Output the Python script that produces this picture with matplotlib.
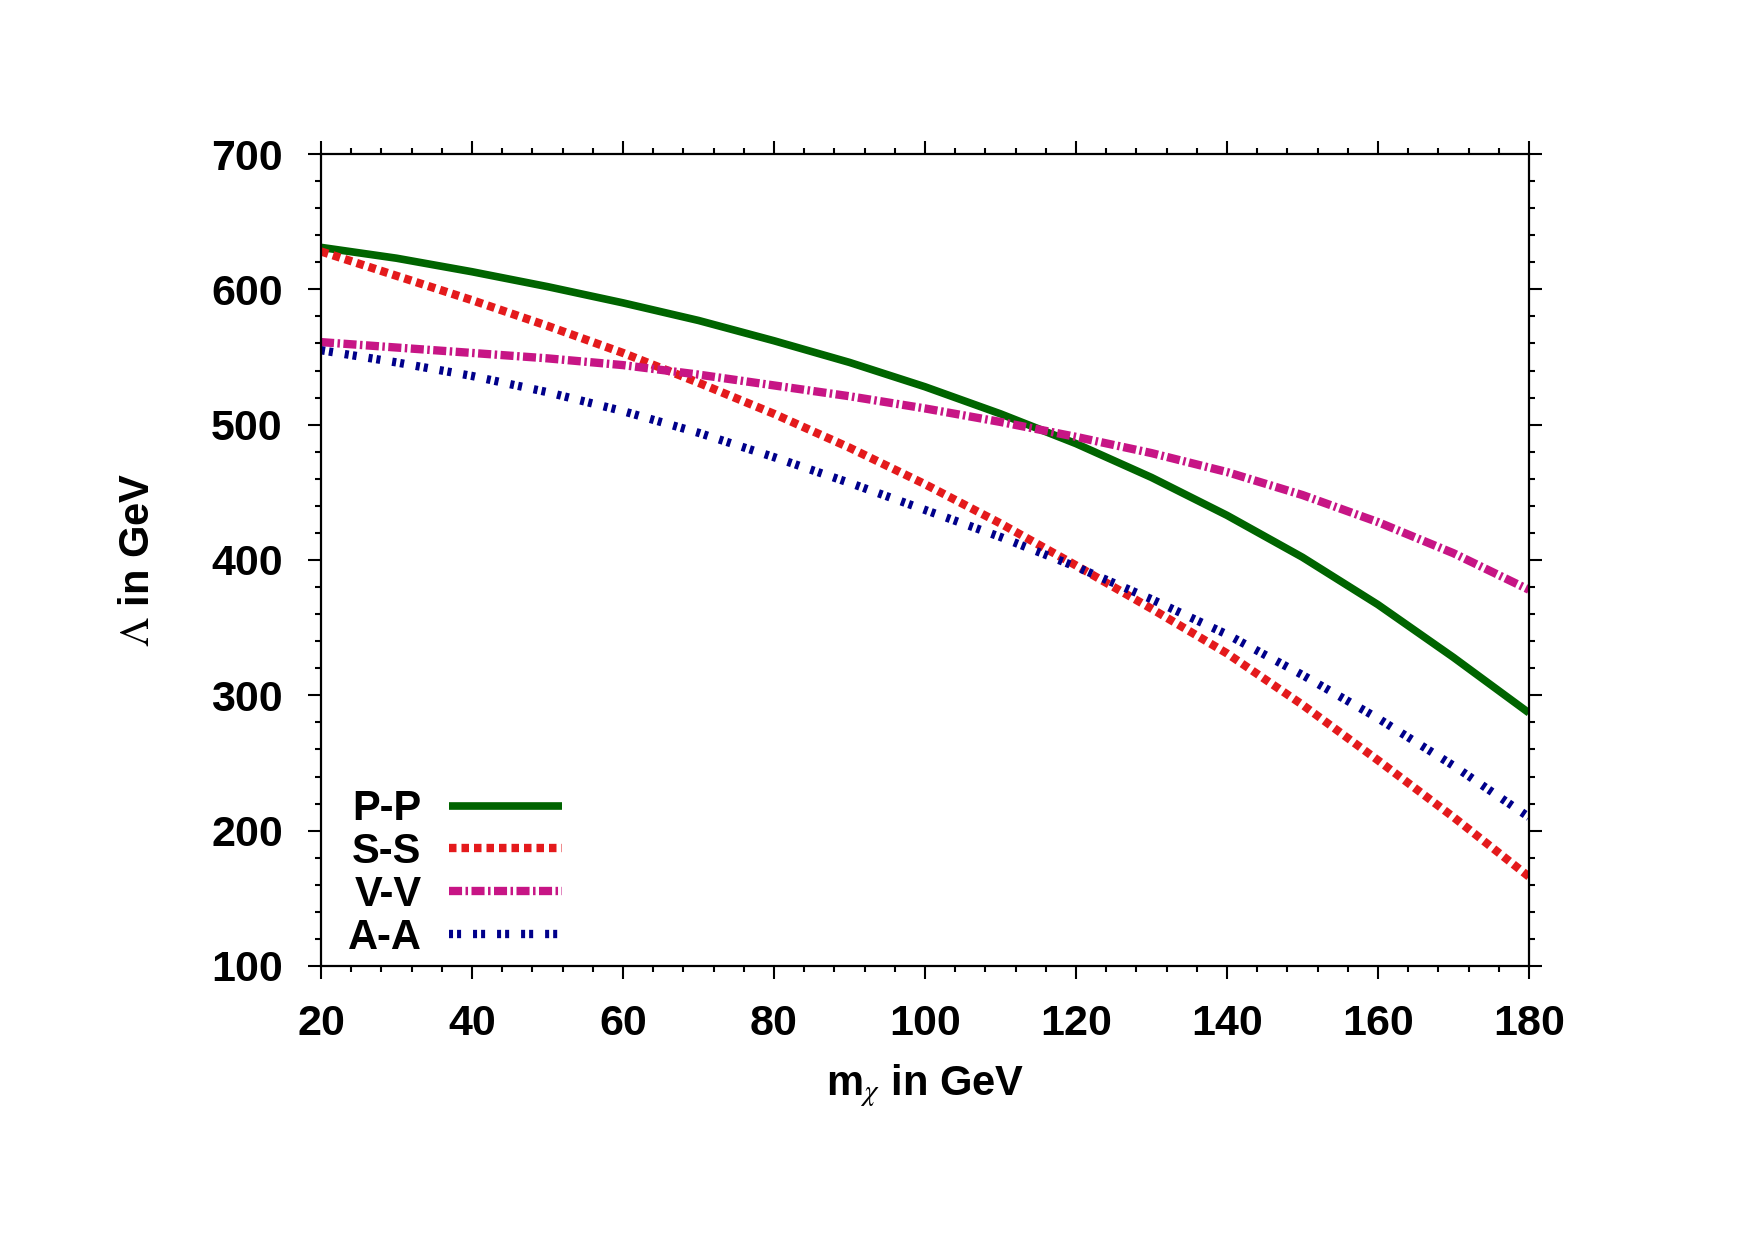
import matplotlib
matplotlib.use('Agg')
import matplotlib.pyplot as plt
from matplotlib.ticker import MultipleLocator

plt.rcParams['font.family'] = ['Liberation Sans', 'DejaVu Sans']
plt.rcParams['mathtext.fontset'] = 'stix'
plt.rcParams['lines.scale_dashes'] = False

# dark matter mass (GeV) and cutoff scale Lambda (GeV) for each operator pair
m_chi = [20, 30, 40, 50, 60, 70, 80, 90, 100, 110, 120, 130, 140, 150, 160, 170, 180]
lam_PP = [631, 623, 613, 602, 590, 577, 562, 546, 528, 508, 486, 461, 433, 402, 367, 328, 287]
lam_SS = [628, 610, 592, 573, 553, 531, 508, 483, 456, 427, 396, 364, 331, 293, 252, 210, 166]
lam_VV = [561, 557, 553, 549, 544, 537, 529, 521, 512, 502, 491, 479, 465, 448, 428, 405, 378]
lam_AA = [555, 546, 536, 524, 510, 494, 476, 457, 437, 417, 395, 371, 345, 315, 283, 248, 210]
labels = ['P-P', 'S-S', 'V-V', 'A-A']

fig = plt.figure(figsize=(17.55, 12.4), dpi=100)
ax = fig.add_axes([0.1829, 0.2210, 0.6883, 0.6548])

ax.plot(m_chi, lam_PP, color='#006400', lw=5.5, solid_capstyle='butt', label=labels[0])
ax.plot(m_chi, lam_SS, color='#e41a1c', lw=6, dashes=(5.4, 3.6),
        dash_capstyle='butt', label=labels[1])
ax.plot(m_chi, lam_VV, color='#c71585', lw=6, dashes=(9.4, 2.5, 1.8, 2.5),
        dash_capstyle='butt', label=labels[2])
ax.plot(m_chi, lam_AA, color='#00008b', lw=6, dashes=(2.9, 2.9, 2.9, 8.6),
        dash_capstyle='butt', label=labels[3])

ax.set_xlim(20, 180)
ax.set_ylim(100, 700)
ax.xaxis.set_major_locator(MultipleLocator(20))
ax.xaxis.set_minor_locator(MultipleLocator(4))
ax.yaxis.set_major_locator(MultipleLocator(100))
ax.yaxis.set_minor_locator(MultipleLocator(20))
ax.tick_params(which='both', direction='out', top=True, right=True, width=1.5)
ax.tick_params(which='major', length=9.5, labelsize=31)
ax.tick_params(which='minor', length=4.5)
ax.tick_params(axis='x', which='major', pad=18)
ax.tick_params(axis='y', which='major', pad=18)
for lab in ax.get_xticklabels() + ax.get_yticklabels():
    lab.set_fontweight('bold')
for s in ax.spines.values():
    s.set_linewidth(1.6)

ax.set_xlabel(r'm$_\chi$ in GeV', fontsize=30, fontweight='bold', labelpad=13)
ax.set_ylabel(r'$\Lambda$ in GeV', fontsize=30, fontweight='bold', labelpad=38)

ax.legend(loc='lower left', bbox_to_anchor=(0.022, 0.010), frameon=False,
          markerfirst=False, prop={'size': 30, 'weight': 'bold'},
          handlelength=2.7, handletextpad=0.67,
          labelspacing=0.07, borderpad=0, borderaxespad=0)

fig.savefig('out.png', dpi=100)
